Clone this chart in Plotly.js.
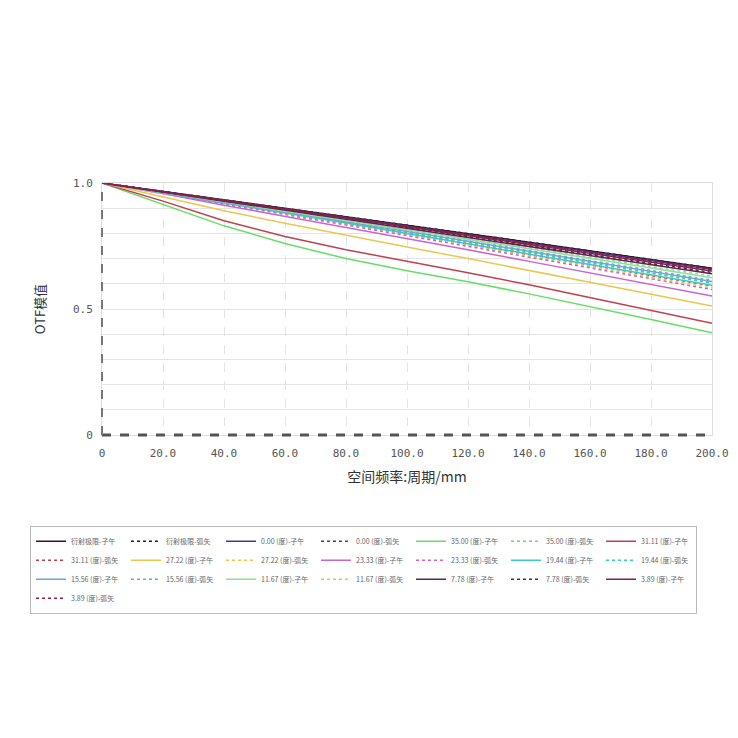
<!DOCTYPE html>
<html>
<head>
<meta charset="utf-8">
<script src="https://cdn.plot.ly/plotly-3.0.1.min.js"></script>
<style>html,body{margin:0;padding:0;background:#fff;}#chart{width:738px;height:738px;}</style>
</head>
<body>
<div id="chart"></div>
<script>
// Spatial frequency (cycles/mm)
const freq = [0, 20, 40, 60, 80, 100, 120, 140, 160, 180, 200];
const xTickVals = [0, 20, 40, 60, 80, 100, 120, 140, 160, 180, 200];
const xTickText = ["0", "20.0", "40.0", "60.0", "80.0", "100.0", "120.0", "140.0", "160.0", "180.0", "200.0"];
const yTickVals = [0, 0.5, 1.0];
const yTickText = ["0", "0.5", "1.0"];

// Series names (legend order)
const seriesNames = [
  "衍射极限-子午", "衍射极限-弧矢",
  "0.00 (度)-子午", "0.00 (度)-弧矢",
  "35.00 (度)-子午", "35.00 (度)-弧矢",
  "31.11 (度)-子午", "31.11 (度)-弧矢",
  "27.22 (度)-子午", "27.22 (度)-弧矢",
  "23.33 (度)-子午", "23.33 (度)-弧矢",
  "19.44 (度)-子午", "19.44 (度)-弧矢",
  "15.56 (度)-子午", "15.56 (度)-弧矢",
  "11.67 (度)-子午", "11.67 (度)-弧矢",
  "7.78 (度)-子午", "7.78 (度)-弧矢",
  "3.89 (度)-子午", "3.89 (度)-弧矢"
];

// MTF values
const diffT  = [1, 0.967, 0.933, 0.899, 0.866, 0.832, 0.799, 0.765, 0.731, 0.697, 0.662];
const diffS  = [1, 0.967, 0.933, 0.899, 0.866, 0.832, 0.799, 0.765, 0.731, 0.697, 0.662];
const f000T  = [1, 0.966, 0.931, 0.897, 0.863, 0.829, 0.795, 0.761, 0.727, 0.693, 0.658];
const f000S  = [1, 0.966, 0.931, 0.897, 0.863, 0.829, 0.795, 0.761, 0.727, 0.693, 0.658];
const f3500T = [1, 0.915, 0.830, 0.760, 0.700, 0.652, 0.608, 0.560, 0.510, 0.458, 0.406];
const f3500S = [1, 0.962, 0.922, 0.882, 0.842, 0.802, 0.762, 0.722, 0.682, 0.642, 0.602];
const f3111T = [1, 0.928, 0.850, 0.788, 0.735, 0.690, 0.644, 0.596, 0.546, 0.495, 0.443];
const f3111S = [1, 0.961, 0.921, 0.880, 0.839, 0.798, 0.757, 0.716, 0.675, 0.634, 0.592];
const f2722T = [1, 0.945, 0.890, 0.840, 0.792, 0.746, 0.700, 0.653, 0.606, 0.559, 0.512];
const f2722S = [1, 0.960, 0.919, 0.878, 0.836, 0.794, 0.752, 0.710, 0.668, 0.626, 0.584];
const f2333T = [1, 0.958, 0.912, 0.868, 0.824, 0.780, 0.735, 0.689, 0.643, 0.598, 0.552];
const f2333S = [1, 0.959, 0.917, 0.875, 0.833, 0.791, 0.749, 0.706, 0.663, 0.620, 0.577];
const f1944T = [1, 0.961, 0.921, 0.881, 0.841, 0.800, 0.759, 0.718, 0.677, 0.636, 0.594];
const f1944S = [1, 0.962, 0.923, 0.884, 0.845, 0.805, 0.765, 0.725, 0.685, 0.645, 0.604];
const f1556T = [1, 0.962, 0.924, 0.886, 0.847, 0.808, 0.769, 0.729, 0.689, 0.649, 0.609];
const f1556S = [1, 0.963, 0.925, 0.887, 0.849, 0.810, 0.771, 0.732, 0.693, 0.654, 0.614];
const f1167T = [1, 0.963, 0.926, 0.889, 0.852, 0.815, 0.777, 0.739, 0.701, 0.663, 0.624];
const f1167S = [1, 0.964, 0.927, 0.890, 0.854, 0.817, 0.780, 0.743, 0.706, 0.669, 0.631];
const f778T  = [1, 0.964, 0.928, 0.892, 0.856, 0.820, 0.784, 0.748, 0.712, 0.676, 0.640];
const f778S  = [1, 0.965, 0.929, 0.894, 0.858, 0.823, 0.787, 0.752, 0.716, 0.681, 0.645];
const f389T  = [1, 0.965, 0.930, 0.895, 0.860, 0.826, 0.791, 0.756, 0.721, 0.686, 0.651];
const f389S  = [1, 0.966, 0.931, 0.897, 0.862, 0.828, 0.793, 0.759, 0.724, 0.690, 0.655];

const seriesValues = [diffT, diffS, f000T, f000S, f3500T, f3500S, f3111T, f3111S,
  f2722T, f2722S, f2333T, f2333S, f1944T, f1944S, f1556T, f1556S,
  f1167T, f1167S, f778T, f778S, f389T, f389S];

const seriesColors = [
  "#3a0f2e", "#3a0f2e",
  "#4b3a7a", "#4b3a7a",
  "#66dd66", "#66dd66",
  "#c0404e", "#c0404e",
  "#e8c850", "#e8c850",
  "#c865c8", "#c865c8",
  "#40c8c8", "#40c8c8",
  "#6fa6d8", "#6fa6d8",
  "#8fe08f", "#8fe08f",
  "#5a2458", "#5a2458",
  "#8a1f45", "#8a1f45"
];

const traces = seriesNames.map((name, i) => ({
  type: "scatter",
  mode: "lines",
  name: name,
  x: freq,
  y: seriesValues[i],
  line: {
    color: seriesColors[i],
    width: 1.5,
    dash: (i % 2 === 0) ? "solid" : "dot"
  }
}));

const layout = {
  width: 738,
  height: 738,
  paper_bgcolor: "#ffffff",
  plot_bgcolor: "#ffffff",
  margin: {l: 102, r: 26, t: 183, b: 303},
  showlegend: true,
  legend: {
    orientation: "h",
    x: -0.118, xanchor: "left",
    y: -0.36, yanchor: "top",
    font: {family: "Noto Sans CJK SC, sans-serif", size: 7, color: "#666"},
    bordercolor: "#bbbbbb", borderwidth: 1,
    bgcolor: "#ffffff",
    itemwidth: 30,
    entrywidth: 50,
    tracegroupgap: 0,
    traceorder: "normal"
  },
  xaxis: {
    range: [0, 200],
    tickvals: xTickVals,
    ticktext: xTickText,
    tickfont: {family: "DejaVu Sans Mono, monospace", size: 11, color: "#555"},
    ticklabelstandoff: 8,
    showgrid: true,
    gridcolor: "#e4e4e4",
    griddash: "dash",
    gridwidth: 1,
    zeroline: false,
    showline: true,
    linecolor: "#dddddd",
    mirror: true,
    ticks: "",
    title: {text: "空间频率:周期/mm", font: {family: "Noto Sans CJK SC, sans-serif", size: 14, color: "#333"}, standoff: 12}
  },
  yaxis: {
    range: [0, 1],
    tickvals: yTickVals,
    ticktext: yTickText,
    tickfont: {family: "DejaVu Sans Mono, monospace", size: 11, color: "#555"},
    ticklabelstandoff: 6,
    showgrid: true,
    gridcolor: "#e4e4e4",
    minor: {dtick: 0.1, showgrid: true, gridcolor: "#e4e4e4", ticks: ""},
    zeroline: false,
    showline: true,
    linecolor: "#dddddd",
    mirror: true,
    ticks: "",
    title: {text: "OTF模值", font: {family: "Noto Sans CJK SC, sans-serif", size: 13, color: "#333"}, standoff: 24}
  },
  shapes: [
    {type: "line", xref: "paper", yref: "paper", x0: 0, x1: 1, y0: 0, y1: 0,
     line: {color: "#555555", width: 3, dash: "dash"}},
    {type: "line", xref: "paper", yref: "paper", x0: 0, x1: 0, y0: 0, y1: 1,
     line: {color: "#777777", width: 2, dash: "dash"}}
  ]
};

Plotly.newPlot("chart", traces, layout, {displayModeBar: false, staticPlot: true});
</script>
</body>
</html>
